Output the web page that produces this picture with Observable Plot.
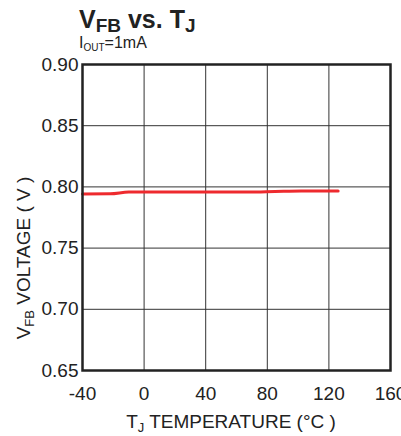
<!DOCTYPE html>
<html><head><meta charset="utf-8">
<script src="https://cdn.jsdelivr.net/npm/d3@7"></script>
<script src="https://cdn.jsdelivr.net/npm/@observablehq/plot@0.6"></script>
<style>body{margin:0;background:#fff;overflow:hidden}svg{overflow:visible}</style>
</head><body><div id="chart"></div>
<script>
const tempC = [-40, -22, -10, 10, 40, 68, 85, 102, 126];
const vfb   = [0.7943, 0.7944, 0.7958, 0.7959, 0.7959, 0.7959, 0.7963, 0.7967, 0.7967];
const xTicks = [-40, 0, 40, 80, 120, 160];
const yTicks = [0.65, 0.70, 0.75, 0.80, 0.85, 0.90];
const data = tempC.map((t, i) => ({t, v: vfb[i]}));

const chart = Plot.plot({
  width: 401, height: 436,
  marginTop: 64, marginLeft: 82, marginRight: 11, marginBottom: 66,
  style: {fontFamily: "Liberation Sans, Arial, sans-serif", fontSize: "19px", color: "#222", overflow: "visible"},
  x: {domain: [-40, 160], label: null},
  y: {domain: [0.65, 0.90], label: null},
  marks: [
    Plot.gridX(xTicks, {stroke: "#333", strokeOpacity: 1, strokeWidth: 1}),
    Plot.gridY(yTicks, {stroke: "#333", strokeOpacity: 1, strokeWidth: 1}),
    Plot.line(data, {x: "t", y: "v", stroke: "#ee2a2e", strokeWidth: 3, curve: "monotone-x"}),
    Plot.frame({stroke: "#222", strokeWidth: 2.5}),
    Plot.axisX({ticks: xTicks, tickSize: 0, tickPadding: 16, fontSize: 19, label: null, tickFormat: d => String(d)}),
    Plot.axisY({ticks: yTicks, tickSize: 0, tickPadding: 4, fontSize: 19, label: null, tickFormat: d3.format(".2f")})
  ]
});
document.getElementById("chart").append(chart);
const svg = d3.select(chart);
const ff = "Liberation Sans, Arial, sans-serif";
// Title
const t1 = svg.append("text").attr("x", 79).attr("y", 28).attr("text-anchor", "start").attr("font-family", ff)
  .attr("font-size", 25).attr("font-weight", "bold").attr("fill", "#222");
t1.append("tspan").text("V");
t1.append("tspan").attr("font-size", 19).attr("dy", 4).text("FB");
t1.append("tspan").attr("dy", -4).text(" vs. T");
t1.append("tspan").attr("font-size", 19).attr("dy", 4).text("J");
// Subtitle
const t2 = svg.append("text").attr("x", 79).attr("y", 48).attr("text-anchor", "start").attr("font-family", ff)
  .attr("font-size", 16).attr("fill", "#222");
t2.append("tspan").text("I");
t2.append("tspan").attr("font-size", 10).attr("dy", 3).text("OUT");
t2.append("tspan").attr("dy", -3).text("=1mA");
// X label
const xl = svg.append("text").attr("x", 231).attr("y", 428).attr("text-anchor", "middle")
  .attr("font-family", ff).attr("font-size", 19).attr("fill", "#222");
xl.append("tspan").text("T");
xl.append("tspan").attr("font-size", 13).attr("dy", 4).text("J");
xl.append("tspan").attr("dy", -4).text(" TEMPERATURE (°C )");
// Y label
const yl = svg.append("text").attr("transform", "translate(30,258) rotate(-90)").attr("text-anchor", "middle")
  .attr("font-family", ff).attr("font-size", 19).attr("fill", "#222");
yl.append("tspan").text("V");
yl.append("tspan").attr("font-size", 13).attr("dy", 4).text("FB");
yl.append("tspan").attr("dy", -4).text(" VOLTAGE ( V )");
</script></body></html>
